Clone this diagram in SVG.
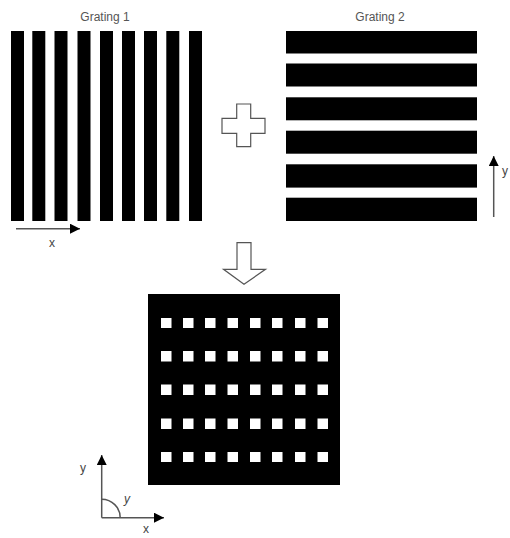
<svg xmlns="http://www.w3.org/2000/svg" width="510" height="538" viewBox="0 0 510 538">
<defs>
<style>
.bar{fill:#000}
.hole{fill:#fff}
.title{font-family:"Liberation Sans",Arial,sans-serif;font-size:12px;fill:#555;text-anchor:middle}
.lbl{font-family:"Liberation Sans",Arial,sans-serif;font-size:12px;fill:#444;text-anchor:middle}
.ax{stroke:#555;stroke-width:1.5;fill:none}
.sym{fill:#fff;stroke:#555;stroke-width:1.2}
</style>
<marker id="ah" viewBox="0 0 10 10" refX="10" refY="5" markerWidth="10" markerHeight="10" markerUnits="userSpaceOnUse" orient="auto">
<path d="M0,0 L10,5 L0,10 Z" fill="#000"/>
</marker>
</defs>
<rect width="510" height="538" fill="#fff"/>

<g id="grating1">
<text class="title" x="105" y="21">Grating 1</text>
<rect class="bar" x="11" y="31" width="13" height="190"/>
<rect class="bar" x="32.3" y="31" width="13" height="190"/>
<rect class="bar" x="54.5" y="31" width="13" height="190"/>
<rect class="bar" x="77.5" y="31" width="13" height="190"/>
<rect class="bar" x="100" y="31" width="13" height="190"/>
<rect class="bar" x="122" y="31" width="13" height="190"/>
<rect class="bar" x="144" y="31" width="13" height="190"/>
<rect class="bar" x="166.3" y="31" width="13" height="190"/>
<rect class="bar" x="189" y="31" width="13" height="190"/>
</g>

<g id="grating2">
<text class="title" x="380" y="21">Grating 2</text>
<rect class="bar" x="286" y="31" width="191" height="22.5"/>
<rect class="bar" x="286" y="63.5" width="191" height="23"/>
<rect class="bar" x="286" y="97.3" width="191" height="23"/>
<rect class="bar" x="286" y="130.7" width="191" height="23"/>
<rect class="bar" x="286" y="164.3" width="191" height="23.3"/>
<rect class="bar" x="286" y="197.7" width="191" height="23.3"/>
</g>

<g id="plus">
<path class="sym" d="M236.7,104 H250.7 V118.3 H265 V133.3 H250.7 V146.7 H236.7 V133.3 H222 V118.3 H236.7 Z"/>
</g>

<g id="down-arrow">
<path class="sym" d="M237,242.7 H251 V269.3 H265.5 L244,284.3 L223.5,269.3 H237 Z"/>
</g>

<g id="result">
<rect class="bar" x="148" y="294" width="192" height="191"/>
<g id="holes" class="hole">
<g id="row1">
<rect x="161" y="318" width="10.5" height="10"/><rect x="183" y="318" width="10.5" height="10"/><rect x="205" y="318" width="10.5" height="10"/><rect x="227.5" y="318" width="10.5" height="10"/><rect x="250" y="318" width="10.5" height="10"/><rect x="272" y="318" width="10.5" height="10"/><rect x="295" y="318" width="10.5" height="10"/><rect x="317.5" y="318" width="10.5" height="10"/>
</g>
<g id="row2">
<rect x="161" y="351" width="10.5" height="10.5"/><rect x="183" y="351" width="10.5" height="10.5"/><rect x="205" y="351" width="10.5" height="10.5"/><rect x="227.5" y="351" width="10.5" height="10.5"/><rect x="250" y="351" width="10.5" height="10.5"/><rect x="272" y="351" width="10.5" height="10.5"/><rect x="295" y="351" width="10.5" height="10.5"/><rect x="317.5" y="351" width="10.5" height="10.5"/>
</g>
<g id="row3">
<rect x="161" y="384.5" width="10.5" height="10.5"/><rect x="183" y="384.5" width="10.5" height="10.5"/><rect x="205" y="384.5" width="10.5" height="10.5"/><rect x="227.5" y="384.5" width="10.5" height="10.5"/><rect x="250" y="384.5" width="10.5" height="10.5"/><rect x="272" y="384.5" width="10.5" height="10.5"/><rect x="295" y="384.5" width="10.5" height="10.5"/><rect x="317.5" y="384.5" width="10.5" height="10.5"/>
</g>
<g id="row4">
<rect x="161" y="418.5" width="10.5" height="10.5"/><rect x="183" y="418.5" width="10.5" height="10.5"/><rect x="205" y="418.5" width="10.5" height="10.5"/><rect x="227.5" y="418.5" width="10.5" height="10.5"/><rect x="250" y="418.5" width="10.5" height="10.5"/><rect x="272" y="418.5" width="10.5" height="10.5"/><rect x="295" y="418.5" width="10.5" height="10.5"/><rect x="317.5" y="418.5" width="10.5" height="10.5"/>
</g>
<g id="row5">
<rect x="161" y="452" width="10.5" height="10"/><rect x="183" y="452" width="10.5" height="10"/><rect x="205" y="452" width="10.5" height="10"/><rect x="227.5" y="452" width="10.5" height="10"/><rect x="250" y="452" width="10.5" height="10"/><rect x="272" y="452" width="10.5" height="10"/><rect x="295" y="452" width="10.5" height="10"/><rect x="317.5" y="452" width="10.5" height="10"/>
</g>
</g>
</g>

<g id="connectors">
<line class="ax" x1="16" y1="228.7" x2="80" y2="228.7" marker-end="url(#ah)"/>
<line class="ax" x1="493.7" y1="217" x2="493.7" y2="156" marker-end="url(#ah)"/>
<line class="ax" x1="101.7" y1="517.7" x2="101.7" y2="455" marker-end="url(#ah)"/>
<line class="ax" x1="101.7" y1="517.7" x2="164" y2="517.7" marker-end="url(#ah)"/>
<path class="ax" d="M101.7,499.2 A18.5,18.5 0 0 1 120.2,517.7"/>
</g>

<g id="labels">
<text class="lbl" x="52" y="247">x</text>
<text class="lbl" x="505" y="175">y</text>
<text class="lbl" x="83" y="472">y</text>
<text class="lbl" x="127" y="503" font-style="italic">y</text>
<text class="lbl" x="146" y="533">x</text>
</g>
</svg>
